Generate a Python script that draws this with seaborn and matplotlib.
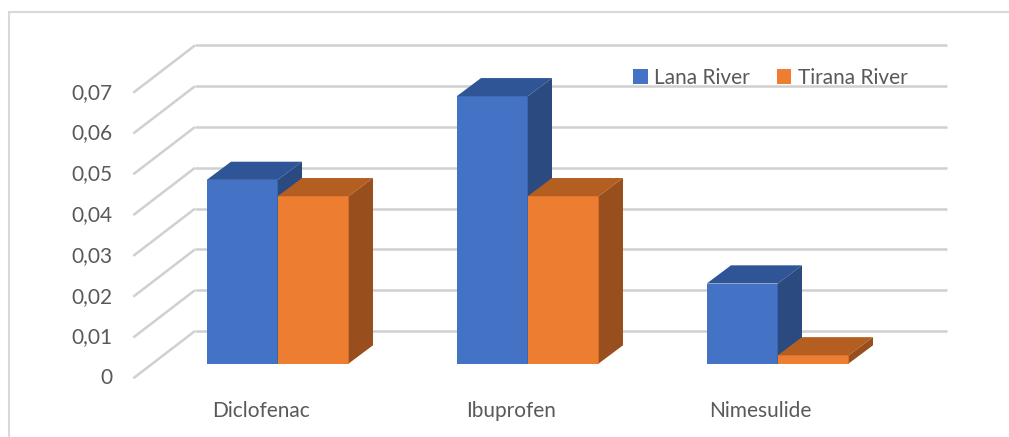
import matplotlib
matplotlib.use("Agg")
import matplotlib.pyplot as plt
import pandas as pd
import seaborn as sns
from matplotlib.patches import Polygon, Patch
from matplotlib.lines import Line2D

# ---- data -------------------------------------------------------------
categories = ["Diclofenac", "Ibuprofen", "Nimesulide"]
series = ["Lana River", "Tirana River"]
lana_river = [0.045, 0.0655, 0.0196]
tirana_river = [0.041, 0.041, 0.002]
y_ticks = [0.0, 0.01, 0.02, 0.03, 0.04, 0.05, 0.06, 0.07]
y_tick_labels = ["0", "0,01", "0,02", "0,03", "0,04", "0,05", "0,06", "0,07"]

# ---- styling ----------------------------------------------------------
front_colors = {"Lana River": "#4472C4", "Tirana River": "#ED7D31"}
top_colors = {"Lana River": "#2F5597", "Tirana River": "#B55E22"}
side_colors = {"Lana River": "#2A4A80", "Tirana River": "#994E1D"}
text_color = "#595959"
grid_color = "#D0D0D0"
font_size = 15

sns.set_style("white")
plt.rcParams["font.family"] = ["Lato", "DejaVu Sans"]

W, H = 1009, 437
fig = plt.figure(figsize=(W / 100, H / 100), dpi=100)
ax = fig.add_axes([0, 0, 1, 1])

df = pd.DataFrame({
    "category": categories * len(series),
    "series": [s for s in series for _ in categories],
    "value": lana_river + tirana_river,
})
sns.barplot(data=df, x="category", y="value", hue="series",
            hue_order=series, order=categories, palette=front_colors,
            saturation=1, width=0.568, dodge=True, errorbar=None,
            linewidth=0, legend=False, ax=ax)

# pixel layout of the oblique projection (x right, y down in pixels)
x_origin_px, x_unit_px = 277.7, 250.0   # category 0 centre, px per category
y_origin_px, y_unit_px = 363.5, 4080.0  # bar-plane zero, px per unit value
ax.set_xlim((0 - x_origin_px) / x_unit_px, (W - x_origin_px) / x_unit_px)
ax.set_ylim((y_origin_px - H) / y_unit_px, y_origin_px / y_unit_px)
ax.set_axis_off()


def px_x(p):
    return (p - x_origin_px) / x_unit_px


def dx(p):
    return p / x_unit_px


def dy(p):
    return p / y_unit_px


# walls: back gridlines and side-wall diagonals
back_shift = dy(32.5)
front_shift = dy(-14.8)
for v, lab in zip(y_ticks, y_tick_labels):
    ax.plot([px_x(195), px_x(947)], [v + back_shift] * 2, color=grid_color,
            lw=1.8, solid_capstyle="butt", zorder=1)
    ax.plot([px_x(133.3), px_x(195)], [v + front_shift, v + back_shift],
            color=grid_color, lw=1.8, solid_capstyle="butt", zorder=1)
    ax.text(px_x(112), v + front_shift, lab, ha="right", va="center",
            fontsize=font_size, color=text_color)

# 3D faces of each bar
depth_x, depth_y = dx(24.3), dy(18.2)
for j, (container, name) in enumerate(zip(ax.containers, series)):
    for rect in container:
        rect.set_zorder(3 + j)
        x0, w, h = rect.get_x(), rect.get_width(), rect.get_height()
        top = Polygon([(x0, h), (x0 + w, h), (x0 + w + depth_x, h + depth_y),
                       (x0 + depth_x, h + depth_y)], closed=True,
                      facecolor=top_colors[name], edgecolor="none", zorder=3 + j)
        side = Polygon([(x0 + w, 0), (x0 + w + depth_x, depth_y),
                        (x0 + w + depth_x, h + depth_y), (x0 + w, h)],
                       closed=True, facecolor=side_colors[name],
                       edgecolor="none", zorder=3 + j)
        ax.add_patch(top)
        ax.add_patch(side)

# category labels on the front edge of the floor
for i, cat in enumerate(categories):
    ax.text(i + dx(-17), (y_origin_px - 411) / y_unit_px, cat, ha="center",
            va="center", fontsize=font_size, color=text_color)

# legend
handles = [Patch(facecolor=front_colors[s], edgecolor="none") for s in series]
ax.legend(handles, series, loc="center left",
          bbox_to_anchor=(633 / W, 1 - 78 / H), bbox_transform=fig.transFigure,
          ncol=2, frameon=False, fontsize=font_size, labelcolor=text_color,
          handlelength=0.7, handleheight=0.7, handletextpad=0.3,
          columnspacing=1.3, borderpad=0, borderaxespad=0)

# chart-area border (left and top edges)
fig.add_artist(Line2D([8.5 / W, 8.5 / W], [0, 1 - 12 / H],
                      transform=fig.transFigure, color="#D9D9D9", lw=1.5))
fig.add_artist(Line2D([8.5 / W, 1], [1 - 12 / H, 1 - 12 / H],
                      transform=fig.transFigure, color="#D9D9D9", lw=1.5))

fig.savefig("out.png", dpi=100)
